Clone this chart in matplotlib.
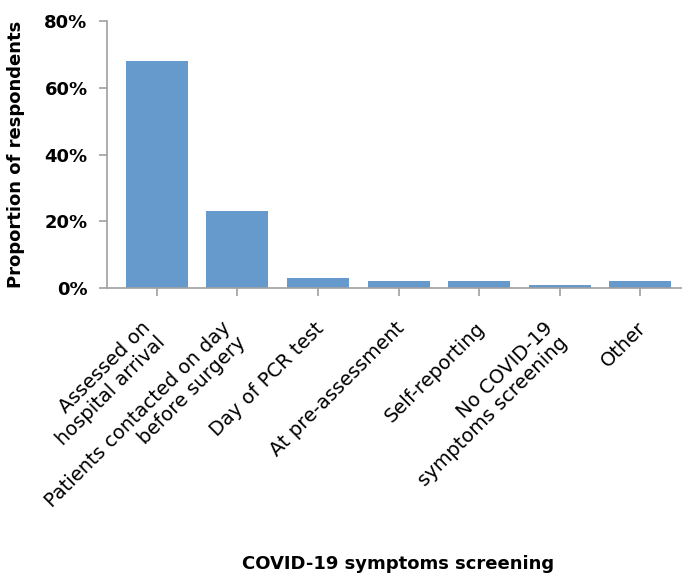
import matplotlib
matplotlib.use("Agg")
import matplotlib.pyplot as plt
import matplotlib.transforms as mtransforms
import numpy as np
from matplotlib.ticker import FuncFormatter

plt.rcParams["font.family"] = ["DejaVu Sans"]

categories = ["Assessed on\nhospital arrival", "Patients contacted on day\nbefore surgery",
              "Day of PCR test", "At pre-assessment", "Self-reporting",
              "No COVID-19\nsymptoms screening", "Other"]
proportions = [68, 23, 3, 2, 2, 1, 2]
y_ticks = [0, 20, 40, 60, 80]

fig = plt.figure(figsize=(6.82, 5.84), dpi=100)
ax = fig.add_axes([107 / 682, 296 / 584, 575 / 682, 267 / 584])

x = np.arange(len(categories))
ax.bar(x, proportions, width=0.77, color="#6699CC")

ax.set_xlim(-0.62, 6.52)
ax.set_ylim(0, 80)
ax.set_yticks(y_ticks)
ax.yaxis.set_major_formatter(FuncFormatter(lambda v, p: f"{v:.0f}%"))
for lab in ax.get_yticklabels():
    lab.set_fontweight("bold")
    lab.set_fontsize(13)

ax.set_xticks(x)
ax.set_xticklabels([])
ax.tick_params(axis="x", length=6, color="#a0a0a0", width=1.2)
ax.tick_params(axis="y", length=6, color="#a0a0a0", width=1.2, pad=8)

# rotated category labels, lines right-aligned like the excel original;
# two-line labels sit a bit further left
for xi, lab in zip(x, categories):
    nlines = lab.count("\n") + 1
    dx = (-4 - 12 * (nlines - 1)) / 100
    tr = ax.get_xaxis_transform() + mtransforms.ScaledTranslation(dx, -0.305, fig.dpi_scale_trans)
    ax.text(xi, 0, lab, transform=tr, rotation=45, ha="right", va="top",
            rotation_mode="anchor", multialignment="right", fontsize=14, linespacing=1.1)

for s in ("top", "right"):
    ax.spines[s].set_visible(False)
for s in ("left", "bottom"):
    ax.spines[s].set_color("#a0a0a0")
    ax.spines[s].set_linewidth(1.2)

ax.set_ylabel("Proportion of respondents", fontsize=13, fontweight="bold", labelpad=14)
fig.text(398 / 682, 1 - 564 / 584, "COVID-19 symptoms screening", ha="center", va="center",
         fontsize=13, fontweight="bold")

fig.savefig("out.png", dpi=100)
